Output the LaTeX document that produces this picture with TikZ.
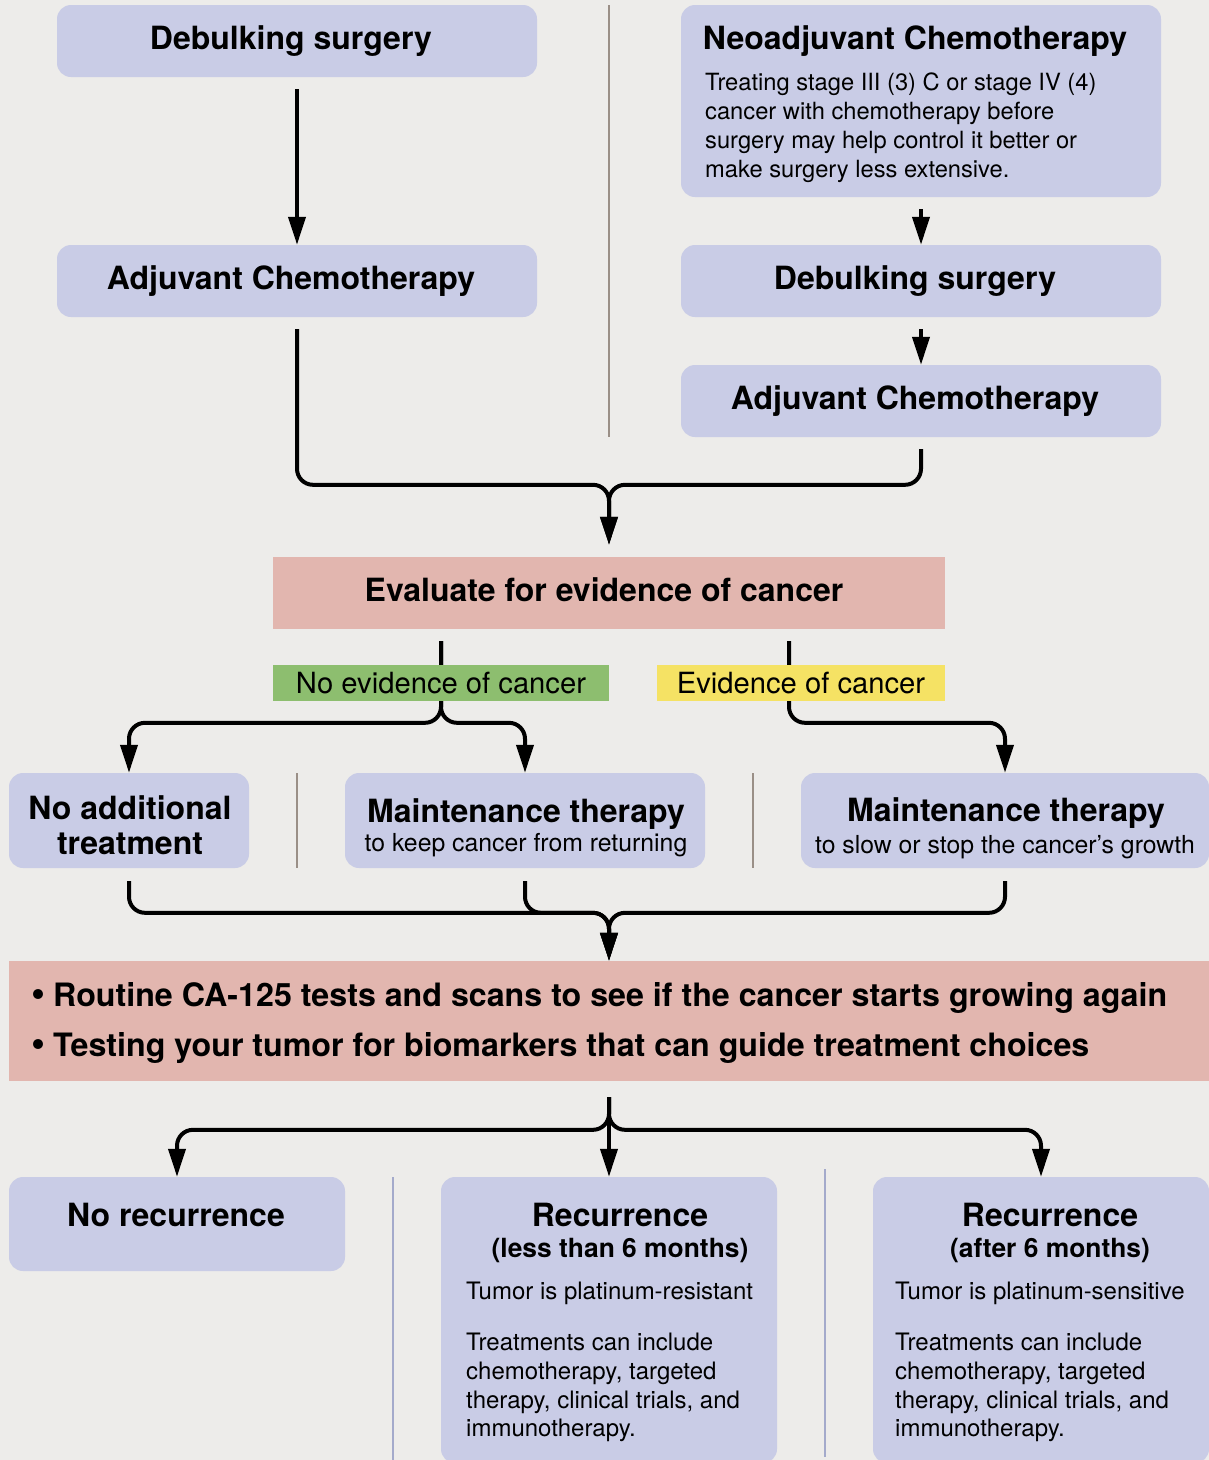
\documentclass[tikz,border=0pt]{standalone}
\usepackage{fontspec}
\setmainfont{TeX Gyre Heros}
\usetikzlibrary{arrows.meta}
\definecolor{bgc}{HTML}{EDECEA}
\definecolor{lav}{HTML}{C9CCE6}
\definecolor{pinkc}{HTML}{E2B6AF}
\definecolor{greenc}{HTML}{8DBE6F}
\definecolor{yellowc}{HTML}{F5E264}
\definecolor{sepbrown}{HTML}{9A8F87}
\definecolor{sepblue}{HTML}{A4AACB}
\newcommand{\fbig}{\fontsize{32}{36}\selectfont\bfseries}
\newcommand{\fmid}{\fontsize{26.4}{30}\selectfont\bfseries}
\newcommand{\fsm}{\fontsize{23.7}{28.8}\selectfont}
\newcommand{\frec}{\fontsize{24}{28.7}\selectfont}
\newcommand{\fsub}{\fontsize{24.8}{29}\selectfont}
\newcommand{\flab}{\fontsize{29.2}{32}\selectfont}
\newcommand{\fbul}{\fontsize{32.2}{36}\selectfont\bfseries}
\begin{document}
\begin{tikzpicture}[x=1pt,y=-1pt,
  lbox/.style={fill=lav, draw=none, rounded corners=14pt, inner sep=0pt},
  pbox/.style={fill=pinkc, draw=none, inner sep=0pt},
  labbox/.style={draw=none, inner sep=0pt, minimum height=36pt},
  txt/.style={inner sep=0pt, anchor=base},
  txtl/.style={inner sep=0pt, anchor=base west},
  para/.style={inner sep=0pt, anchor=north west, align=left},
  arr/.style={line width=4pt, -{Triangle[width=17pt,length=28pt]}, rounded corners=16pt},
  sepline/.style={line width=1.5pt}]
\fill[bgc] (0,0) rectangle (1209,1460);
\useasboundingbox (0,0) rectangle (1209,1460);

% separators
\draw[sepline, sepbrown] (609,5) -- (609,437);
\draw[sepline, sepbrown] (297,773) -- (297,868);
\draw[sepline, sepbrown] (753,773) -- (753,868);
\draw[sepline, sepblue] (393,1177) -- (393,1460);
\draw[sepline, sepblue] (825,1169) -- (825,1457);

% top boxes
\node[lbox, minimum width=480pt, minimum height=72pt] (ds1) at (297,41) {};
\node[lbox, minimum width=480pt, minimum height=72pt] (ac1) at (297,281) {};
\node[lbox, minimum width=480pt, minimum height=192pt] (neo) at (921,101) {};
\node[lbox, minimum width=480pt, minimum height=72pt] (ds2) at (921,281) {};
\node[lbox, minimum width=480pt, minimum height=72pt] (ac2) at (921,401) {};

\node[txt] (ds1t) at (291,49) {\fbig Debulking surgery};
\node[txt] (ac1t) at (291,289) {\fbig Adjuvant Chemotherapy};
\node[txt] (neot) at (915,49) {\fbig Neoadjuvant Chemotherapy};
\node[para, font=\fsm] (neob) at (705,73) {Treating stage III (3) C or stage IV (4)\\ cancer with chemotherapy before\\ surgery may help control it better or\\ make surgery less extensive.};
\node[txt] (ds2t) at (915,289) {\fbig Debulking surgery};
\node[txt] (ac2t) at (915,409) {\fbig Adjuvant Chemotherapy};

% evaluate
\node[pbox, minimum width=672pt, minimum height=72pt] (eval) at (609,593) {};
\node[txt] (evalt) at (604,601) {\fbig Evaluate for evidence of cancer};

% middle row boxes
\node[lbox, minimum width=240pt, minimum height=95pt] (noadd) at (129,820.5) {};
\node[lbox, minimum width=360pt, minimum height=95pt] (mt1) at (525,820.5) {};
\node[lbox, minimum width=408pt, minimum height=95pt] (mt2) at (1005,820.5) {};
\node[txt] (noaddt1) at (130,819) {\fbig No additional};
\node[txt] (noaddt2) at (130,854) {\fbig treatment};
\node[txt] (mt1t) at (526,822) {\fbig Maintenance therapy};
\node[txt] (mt1s) at (526,851) {\fsub to keep cancer from returning};
\node[txt] (mt2t) at (1006,821) {\fbig Maintenance therapy};
\node[txt] (mt2s) at (1005,853) {\fsub to slow or stop the cancer’s growth};

% big pink box
\node[pbox, minimum width=1200pt, minimum height=120pt] (big) at (609,1021) {};
\node[txtl] (bul1) at (31,1006) {\fbul {\fontsize{40}{36}\selectfont •}\hspace{8pt}Routine CA-125 tests and scans to see if the cancer starts growing again};
\node[txtl] (bul2) at (31,1056) {\fbul {\fontsize{40}{36}\selectfont •}\hspace{8pt}Testing your tumor for biomarkers that can guide treatment choices};

% bottom boxes
\node[lbox, minimum width=336pt, minimum height=94pt] (norec) at (177,1224) {};
\node[lbox, minimum width=336pt, minimum height=286pt] (rec1) at (609,1320) {};
\node[lbox, minimum width=336pt, minimum height=286pt] (rec2) at (1041,1320) {};
\node[txt] (norect) at (176,1226) {\fbig No recurrence};
\node[txt] (rec1t) at (620,1226) {\fbig Recurrence};
\node[txt] (rec1m) at (620,1257) {\fmid (less than 6 months)};
\node[txtl] (rec1a) at (466,1299) {\frec Tumor is platinum-resistant};
\node[para, font=\frec] (rec1b) at (466,1333) {Treatments can include\\ chemotherapy, targeted\\ therapy, clinical trials, and\\ immunotherapy.};
\node[txt] (rec2t) at (1050,1226) {\fbig Recurrence};
\node[txt] (rec2m) at (1050,1257) {\fmid (after 6 months)};
\node[txtl] (rec2a) at (895,1299) {\frec Tumor is platinum-sensitive};
\node[para, font=\frec] (rec2b) at (895,1333) {Treatments can include\\ chemotherapy, targeted\\ therapy, clinical trials, and\\ immunotherapy.};

% connectors top
\draw[arr] ([yshift=-12pt]ds1.south) -- (ac1.north);
\draw[arr] ([yshift=-12pt]neo.south) -- (ds2.north);
\draw[arr] ([yshift=-12pt]ds2.south) -- (ac2.north);
\draw[arr] ([yshift=-12pt]ac1.south) |- ([yshift=72pt]eval.north) -- ([yshift=12pt]eval.north);
\draw[arr] ([yshift=-12pt]ac2.south) |- ([yshift=72pt]eval.north) -- ([yshift=12pt]eval.north);

% connectors from evaluate
\coordinate (e1) at (441,641);
\coordinate (e2) at (789,641);
\draw[arr] (e1) |- ([yshift=50pt]noadd.north) -- (noadd.north);
\draw[arr] (e1) |- ([yshift=50pt]mt1.north) -- (mt1.north);
\draw[arr] (e2) |- ([yshift=50pt]mt2.north) -- (mt2.north);
\node[labbox, fill=greenc, minimum width=336pt] (lblno) at (441,683) {};
\node[labbox, fill=yellowc, minimum width=288pt] (lblyes) at (801,683) {};
\node[txt] (lblnot) at (441,693) {\flab No evidence of cancer};
\node[txt] (lblyest) at (801,693) {\flab Evidence of cancer};

% merge to big box
\draw[arr] ([yshift=-13pt]noadd.south) |- ([yshift=48pt]big.north) -- (big.north);
\draw[arr] ([yshift=-13pt]mt1.south) |- ([yshift=48pt]big.north) -- (big.north);
\draw[arr] ([yshift=-13pt]mt2.south) |- ([yshift=48pt]big.north) -- (big.north);

% bottom branches
\coordinate (b0) at (609,1097);
\draw[arr] (b0) |- ([yshift=47pt]norec.north) -- (norec.north);
\draw[arr] (b0) -- (rec1.north);
\draw[arr] (b0) |- ([yshift=47pt]rec2.north) -- (rec2.north);
\end{tikzpicture}
\end{document}
